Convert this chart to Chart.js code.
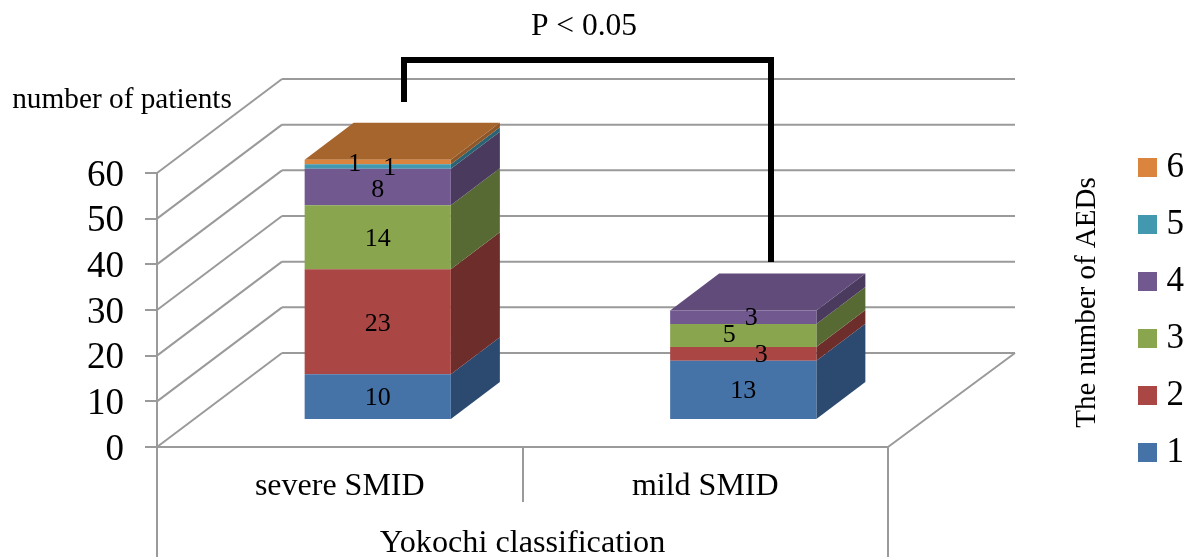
<!DOCTYPE html>
<html>
<head>
<meta charset="utf-8">
<title>Yokochi classification</title>
<script src="https://cdn.jsdelivr.net/npm/chart.js@4"></script>
<style>
    html, body { margin: 0; padding: 0; background: #fff; }
    canvas { display: block; }
</style>
</head>
<body>
<canvas id="chart" width="1193" height="557"></canvas>
<script>
'use strict';

const categories = ['severe SMID', 'mild SMID'];
const seriesNames = ['1', '2', '3', '4', '5', '6'];
const aed1 = [10, 13];
const aed2 = [23, 3];
const aed3 = [14, 5];
const aed4 = [8, 3];
const aed5 = [1, 0];
const aed6 = [1, 0];
const seriesValues = [aed1, aed2, aed3, aed4, aed5, aed6];

const frontColors = ['#4572A7', '#AA4643', '#89A54E', '#71588F', '#4198AF', '#DB843D'];
const sideColors = ['#2C4A6F', '#6D2D2B', '#586A33', '#4A3A5E', '#2A6373', '#8F5628'];
const topColors = ['#36598A', '#853735', '#6B813D', '#614B7A', '#337788', '#A6652D'];

const SERIF = '"Liberation Serif", "Times New Roman", serif';
const GREY = '#9a9a9a';

// the bars stand in the middle of the floor, the walls at its back
const FLOOR = { dx: 125, dy: 94 };
const BAR_SHIFT = { dx: 38, dy: 27 };
const BAR_DEPTH = { dx: 49, dy: 37 };

// the labels were dragged by hand in the original, [series][category]
const labelNudge = [
    [[0, 2], [0, 1]],
    [[0, 2], [18, 1]],
    [[0, 2], [-14, 0]],
    [[0, 3], [8, 1]],
    [[-23, -2], [0, 0]],
    [[12, 6], [0, 0]],
];

function strokeLine(ctx, x1, y1, x2, y2) {
    ctx.beginPath();
    ctx.moveTo(x1, y1);
    ctx.lineTo(x2, y2);
    ctx.stroke();
}

function fillPoly(ctx, points, color) {
    ctx.fillStyle = color;
    ctx.beginPath();
    points.forEach(([x, y], i) => (i ? ctx.lineTo(x, y) : ctx.moveTo(x, y)));
    ctx.closePath();
    ctx.fill();
}

function drawText(ctx, text, x, y, size, rotation) {
    ctx.save();
    ctx.translate(x, y);
    if (rotation) ctx.rotate(rotation);
    ctx.font = `${size}px ${SERIF}`;
    ctx.fillStyle = '#000';
    ctx.textAlign = 'center';
    ctx.textBaseline = 'middle';
    ctx.fillText(text, 0, 0);
    ctx.restore();
}

function drawWalls(chart) {
    const { ctx, chartArea: area, scales } = chart;
    ctx.save();
    ctx.strokeStyle = GREY;
    ctx.lineWidth = 2;
    scales.y.ticks.forEach(tick => {
        const y = scales.y.getPixelForValue(tick.value);
        strokeLine(ctx, area.left, y, area.left + FLOOR.dx, y - FLOOR.dy);
        strokeLine(ctx, area.left + FLOOR.dx, y - FLOOR.dy, area.right + FLOOR.dx + 2, y - FLOOR.dy);
    });
    strokeLine(ctx, area.right, area.bottom, area.right + FLOOR.dx + 2, area.bottom - FLOOR.dy);
    strokeLine(ctx, area.left, area.bottom, area.left, chart.height);
    strokeLine(ctx, area.right, area.bottom, area.right, chart.height);
    ctx.restore();
}

function drawBarSides(chart) {
    const { ctx } = chart;
    const tops = [];
    seriesValues.forEach((values, s) => {
        chart.getDatasetMeta(s).data.forEach((bar, c) => {
            if (!values[c]) return;
            const right = bar.x + bar.width / 2;
            fillPoly(ctx, [
                [right, bar.y],
                [right + BAR_DEPTH.dx, bar.y - BAR_DEPTH.dy],
                [right + BAR_DEPTH.dx, bar.base - BAR_DEPTH.dy],
                [right, bar.base],
            ], sideColors[s]);
            tops[c] = { bar, s };
        });
    });
    tops.forEach(({ bar, s }) => {
        const left = bar.x - bar.width / 2;
        const right = bar.x + bar.width / 2;
        fillPoly(ctx, [
            [left, bar.y],
            [right, bar.y],
            [right + BAR_DEPTH.dx, bar.y - BAR_DEPTH.dy],
            [left + BAR_DEPTH.dx, bar.y - BAR_DEPTH.dy],
        ], topColors[s]);
    });
}

function drawValueLabels(chart) {
    const { ctx } = chart;
    seriesValues.forEach((values, s) => {
        chart.getDatasetMeta(s).data.forEach((bar, c) => {
            if (!values[c]) return;
            const [nx, ny] = labelNudge[s][c];
            drawText(ctx, String(values[c]),
                bar.x + BAR_SHIFT.dx + nx,
                (bar.y + bar.base) / 2 - BAR_SHIFT.dy + ny, 26);
        });
    });
}

const box3dPlugin = {
    id: 'box3d',
    afterLayout(chart) {
        // place the legend on its own, the layout only knows how to center it
        const legend = chart.legend;
        legend.left = 1116;
        legend.right = 1184;
        legend.top = 122;
        legend.bottom = 498;
    },
    beforeDatasetsDraw(chart) {
        const { ctx } = chart;
        drawWalls(chart);
        ctx.save();
        ctx.translate(BAR_SHIFT.dx, -BAR_SHIFT.dy);
        drawBarSides(chart);
    },
    afterDatasetsDraw(chart) {
        chart.ctx.restore();
        drawValueLabels(chart);
    },
    afterDraw(chart) {
        const { ctx } = chart;
        drawText(ctx, 'number of patients', 122, 100, 29.3);
        drawText(ctx, 'P < 0.05', 584, 27, 31.5);
        drawText(ctx, 'The number of AEDs', 1087, 302.5, 29, -Math.PI / 2);

        ctx.save();
        ctx.strokeStyle = '#000';
        ctx.lineWidth = 6;
        ctx.lineJoin = 'miter';
        ctx.beginPath();
        ctx.moveTo(404, 102);
        ctx.lineTo(404, 60);
        ctx.lineTo(771, 60);
        ctx.lineTo(771, 262);
        ctx.stroke();
        ctx.restore();
    },
};

new Chart(document.getElementById('chart'), {
    type: 'bar',
    plugins: [box3dPlugin],
    data: {
        labels: categories,
        datasets: seriesNames.map((name, s) => ({
            label: name,
            data: seriesValues[s],
            backgroundColor: frontColors[s],
            borderWidth: 0,
            clip: false,
            barPercentage: 0.4,
            categoryPercentage: 1,
        })),
    },
    options: {
        responsive: false,
        animation: false,
        layout: { padding: { top: 173, right: 219, bottom: 0, left: 0 } },
        plugins: {
            tooltip: { enabled: false },
            legend: {
                position: 'right',
                reverse: true,
                labels: {
                    boxWidth: 19,
                    boxHeight: 19,
                    padding: 22,
                    color: '#000',
                    textAlign: 'right',
                    font: { family: SERIF, size: 35 },
                },
            },
        },
        scales: {
            x: {
                stacked: true,
                afterFit(scale) { scale.height = 110; },
                border: { color: GREY, width: 2 },
                grid: { color: GREY, lineWidth: 2, drawOnChartArea: false, tickLength: 55 },
                ticks: {
                    color: '#000',
                    padding: -35,
                    maxRotation: 0,
                    autoSkip: false,
                    font: { family: SERIF, size: 32 },
                },
                title: {
                    display: true,
                    text: 'Yokochi classification',
                    color: '#000',
                    padding: { top: 0, bottom: -6 },
                    font: { family: SERIF, size: 32.2 },
                },
            },
            y: {
                stacked: true,
                min: 0,
                max: 60,
                afterFit(scale) { scale.width = 157; },
                border: { color: GREY, width: 2 },
                grid: { color: GREY, lineWidth: 2, drawOnChartArea: false, tickLength: 12 },
                ticks: {
                    stepSize: 10,
                    autoSkip: false,
                    color: '#000',
                    padding: 21,
                    labelOffset: 3,
                    font: { family: SERIF, size: 37 },
                },
            },
        },
    },
});
</script>
</body>
</html>
